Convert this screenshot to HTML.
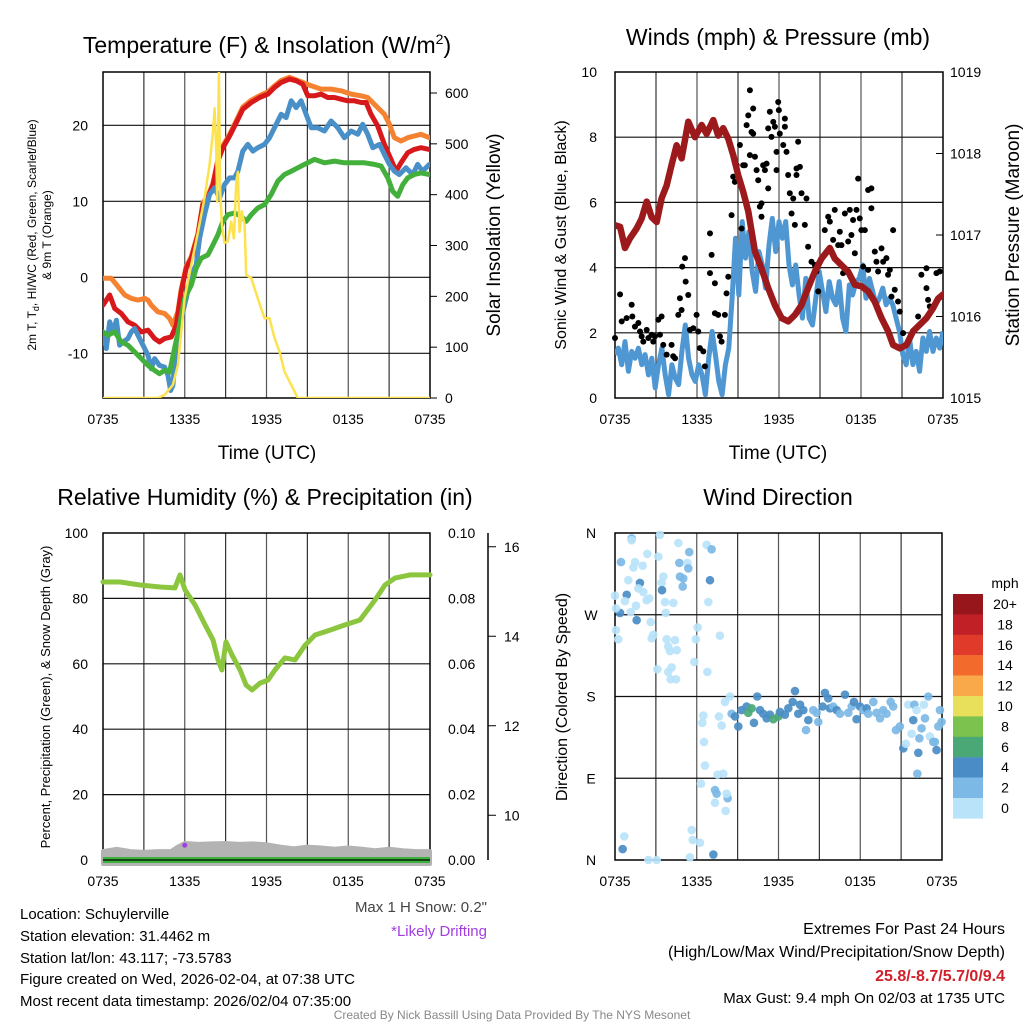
<!DOCTYPE html>
<html><head><meta charset="utf-8"><title>NYS Mesonet Meteogram - Schuylerville</title>
<style>
html,body{margin:0;padding:0;background:#fff;}
svg{display:block;font-family:"Liberation Sans",Arial,sans-serif;}
</style></head>
<body>
<svg id="chart" width="1024" height="1024" viewBox="0 0 1024 1024" xmlns="http://www.w3.org/2000/svg">
<rect x="0" y="0" width="1024" height="1024" fill="#fff"/>
<text x="267" y="53" font-size="23" text-anchor="middle">Temperature (F) &amp; Insolation (W/m<tspan font-size="14" dy="-9">2</tspan><tspan dy="9">)</tspan></text>
<text x="778" y="45" font-size="23" text-anchor="middle">Winds (mph) &amp; Pressure (mb)</text>
<text x="265" y="505" font-size="23" text-anchor="middle">Relative Humidity (%) &amp; Precipitation (in)</text>
<text x="778" y="505" font-size="23" text-anchor="middle">Wind Direction</text>
<text x="267" y="459" font-size="19" text-anchor="middle">Time (UTC)</text>
<text x="778" y="459" font-size="19" text-anchor="middle">Time (UTC)</text>
<text transform="translate(36,235) rotate(-90)" font-size="12" text-anchor="middle">2m T, T<tspan font-size="9" dy="3">d</tspan><tspan dy="-3">, HI/WC (Red, Green, Scarlet/Blue)</tspan></text>
<text transform="translate(51,235) rotate(-90)" font-size="12" text-anchor="middle">&amp; 9m T (Orange)</text>
<text transform="translate(500,235) rotate(-90)" font-size="19" text-anchor="middle">Solar Insolation (Yellow)</text>
<text transform="translate(566,235) rotate(-90)" font-size="16" text-anchor="middle">Sonic Wind &amp; Gust (Blue, Black)</text>
<text transform="translate(1019,235) rotate(-90)" font-size="19" text-anchor="middle">Station Pressure (Maroon)</text>
<text transform="translate(50,697) rotate(-90)" font-size="13" text-anchor="middle">Percent, Precipitation (Green), &amp; Snow Depth (Gray)</text>
<text transform="translate(567,697) rotate(-90)" font-size="16" text-anchor="middle">Direction (Colored By Speed)</text>
<g font-size="15">
<text x="20" y="919">Location: Schuylerville</text>
<text x="20" y="941">Station elevation: 31.4462 m</text>
<text x="20" y="963">Station lat/lon: 43.117; -73.5783</text>
<text x="20" y="984">Figure created on Wed, 2026-02-04, at 07:38 UTC</text>
<text x="20" y="1006">Most recent data timestamp: 2026/02/04 07:35:00</text>
</g>
<text x="487" y="912" font-size="15" fill="#444" text-anchor="end">Max 1 H Snow: 0.2"</text>
<text x="487" y="936" font-size="15" fill="#a23ee0" text-anchor="end">*Likely Drifting</text>
<g font-size="16" text-anchor="end">
<text x="1005" y="934">Extremes For Past 24 Hours</text>
<text x="1005" y="957">(High/Low/Max Wind/Precipitation/Snow Depth)</text>
<text x="1005" y="981" fill="#d0202a" font-weight="bold">25.8/-8.7/5.7/0/9.4</text>
<text x="1005" y="1003" font-size="15">Max Gust: 9.4 mph On 02/03 at 1735 UTC</text>
</g>
<text x="512" y="1019" font-size="12" fill="#888" text-anchor="middle">Created By Nick Bassill Using Data Provided By The NYS Mesonet</text>
<g id="layer"></g>
</svg>
<script>
var xTickLabels = ["0735","1335","1935","0135","0735"];
var tempYTicks = [-10,0,10,20];
var solYTicks = [0,100,200,300,400,500,600];
var windYTicks = [0,2,4,6,8,10];
var presYTicks = [1015,1016,1017,1018,1019];
var rhYTicks = [0,20,40,60,80,100];
var precipYTicks = ["0.00","0.02","0.04","0.06","0.08","0.10"];
var snowYTicks = [10,12,14,16];
var dirLabels = ["N","E","S","W","N"];
var speedBins = ["0","2","4","6","8","10","12","14","16","18","20+"];
var speedColors = ["#b9e3f8","#7cb9e6","#4a8dc6","#4aa877","#7cc24e","#e8e05a","#f9a94a","#f26b2c","#e03a2a","#c02026","#96161b"];

var redT = [0,0.49,0.86,1.34,1.83,2.32,2.81,3.30,3.79,4.15,4.52,5.01,5.38,5.74,6.11,6.48,6.97,7.33,7.70,8.07,8.43,8.80,9.29,9.78,10.26,10.88,11.49,12.10,12.59,13.08,13.69,14.18,14.66,15.03,15.52,16.01,16.50,16.99,17.47,17.96,18.45,18.94,19.31,19.67,20.16,20.65,21.14,21.51,21.87,22.36,22.85,23.34,23.95];
var redV = [-3.66,-2.33,-4.10,-4.76,-5.86,-6.30,-7.18,-6.96,-8.06,-8.50,-8.06,-7.84,-6.30,-1.89,1.19,2.51,5.59,9.56,10.44,12.20,15.29,17.05,18.59,20.35,22.11,23.00,23.66,24.10,24.98,25.64,26.08,25.86,25.42,23.88,23.88,24.10,23.66,23.66,23.44,23.22,23.22,23.00,23.00,21.45,19.91,17.49,15.51,13.96,15.07,16.39,16.83,17.05,16.83];
var orangeT = [0,0.61,1.10,1.59,2.08,2.57,3.06,3.30,3.54,4.03,4.52,4.89,5.13,5.50,5.74,6.11,6.48,6.97,7.33,7.70,8.07,8.43,8.80,9.29,9.78,10.26,10.88,11.49,12.10,12.59,13.08,13.69,14.66,15.28,16.01,16.74,17.47,18.21,18.94,19.43,20.16,20.65,21.02,21.39,21.87,22.36,22.85,23.34,23.95];
var orangeV = [-0.13,-0.13,-1.23,-2.33,-2.78,-3.00,-2.78,-3.00,-3.66,-4.54,-4.76,-5.42,-6.30,-4.54,-1.6,1.4,2.7,5.8,9.8,10.7,12.4,15.5,17.3,18.8,20.6,22.4,23.3,23.9,24.4,25.2,25.9,26.3,25.64,25.20,24.76,24.76,24.54,24.10,23.88,23.66,22.33,21.45,20.13,18.37,17.93,18.37,18.59,18.81,18.37];
var blueT = [0,0.24,0.49,0.73,0.98,1.22,1.47,1.83,2.08,2.32,2.81,3.30,3.54,3.79,4.15,4.52,4.77,4.96,5.13,5.38,5.74,6.11,6.48,6.84,7.09,7.45,7.82,8.19,8.55,8.92,9.29,9.65,9.90,10.26,10.63,11.00,11.36,11.85,12.22,12.71,13.08,13.44,13.81,14.18,14.54,14.91,15.28,15.76,16.25,16.74,17.23,17.72,18.21,18.70,19.06,19.43,19.80,20.29,20.65,21.02,21.39,21.75,22.24,22.73,23.10,23.46,23.95];
var blueV = [-7.18,-9.38,-5.86,-7.18,-5.64,-8.94,-8.50,-8.06,-7.18,-6.74,-8.50,-10.26,-12.03,-10.70,-11.59,-11.81,-12.91,-14.89,-14.23,-8.50,-5.42,-2.78,0.31,1.63,5.15,8.24,10.88,11.76,10.44,12.20,13.08,13.08,13.96,16.61,17.49,16.61,17.05,17.49,18.37,20.13,21.45,21.01,23.22,22.33,23.22,21.45,19.69,19.69,19.25,20.57,19.69,18.37,19.25,18.81,20.13,18.81,17.05,17.49,16.17,14.85,13.96,13.52,14.41,13.52,14.85,13.96,14.85];
var greenT = [0,0.37,0.86,1.34,1.83,2.32,2.81,3.30,3.79,4.15,4.52,4.89,5.25,5.62,5.99,6.48,6.84,7.21,7.70,8.07,8.43,8.80,9.17,9.65,10.14,10.51,10.88,11.36,11.85,12.34,12.83,13.32,13.81,14.30,14.79,15.52,16.25,16.99,17.72,18.45,19.19,19.92,20.41,20.90,21.26,21.63,22.00,22.36,22.85,23.34,23.95];
var greenV = [-7.18,-7.62,-7.18,-8.50,-8.94,-9.82,-10.70,-11.59,-12.25,-12.69,-12.25,-12.47,-9.38,-6.30,-2.78,-1.01,1.19,2.51,2.95,4.27,5.59,7.36,8.24,8.46,8.02,7.36,8.24,9.12,9.56,10.88,12.64,13.52,13.96,14.41,14.85,15.51,15.07,15.29,15.07,15.07,15.07,14.85,14.63,13.08,11.32,10.66,12.20,13.08,13.52,13.74,13.52];
var solT = [0,4.03,4.52,5.13,5.50,5.99,6.48,6.97,7.45,7.82,8.07,8.19,8.31,8.38,8.51,8.60,8.73,8.92,9.17,9.41,9.61,9.78,9.90,10.02,10.19,10.39,10.51,10.88,11.36,11.85,12.22,12.59,12.95,13.32,13.81,14.30,24];
var solV = [0,0,6,26,65,196,262,327,393,458,524,570,491,386,642,406,341,305,308,347,314,426,445,327,367,341,242,236,196,157,157,118,92,52,26,0,0];

var presT = [0,0.37,0.73,1.10,1.58,1.95,2.32,2.68,3.05,3.41,3.78,4.14,4.51,4.87,5.36,5.85,6.34,6.70,7.19,7.55,7.92,8.29,8.65,9.02,9.38,9.75,10.24,10.72,11.21,11.70,12.19,12.67,13.16,13.65,14.13,14.62,15.11,15.72,16.08,16.57,17.06,17.55,18.03,18.52,19.01,19.50,19.98,20.35,20.84,21.32,21.81,22.30,22.79,23.27,23.64,24.0];
var presV = [1017.12,1017.10,1016.84,1016.96,1017.08,1017.20,1017.41,1017.22,1017.16,1017.45,1017.61,1017.86,1018.10,1017.94,1018.39,1018.20,1018.35,1018.24,1018.41,1018.22,1018.31,1018.18,1017.98,1017.73,1017.53,1017.29,1016.80,1016.59,1016.35,1016.14,1015.98,1015.94,1016.02,1016.14,1016.35,1016.55,1016.71,1016.84,1016.71,1016.63,1016.55,1016.39,1016.37,1016.31,1016.18,1015.98,1015.82,1015.65,1015.61,1015.65,1015.82,1015.90,1015.98,1016.10,1016.22,1016.27];
var windV = [1.33,1.53,1.02,1.73,0.82,1.43,1.22,1.53,1.02,1.33,0.71,1.22,0.31,1.02,1.53,0.71,0.10,1.02,0.61,0.41,1.43,2.24,1.22,0.71,0.51,1.02,0.71,0.10,1.22,2.04,1.33,0.51,0.10,1.02,1.53,3.06,4.90,3.16,5.41,4.29,5.10,3.88,3.27,4.49,4.08,3.37,4.69,5.51,4.49,5.41,4.90,5.41,4.08,3.47,4.08,3.16,2.45,3.67,2.45,2.24,3.06,3.88,3.27,2.65,3.57,3.06,2.86,3.57,2.45,2.04,3.47,3.16,3.57,3.67,4.08,3.06,3.67,3.27,2.86,3.06,3.37,2.86,3.06,2.86,2.45,2.04,1.33,1.02,1.84,1.02,1.43,0.82,1.84,1.43,2.04,1.43,1.84,1.53,2.04];
var gustT = [0,0.37,0.49,0.85,1.22,1.27,1.46,1.71,1.83,1.95,2.07,2.32,2.44,2.68,2.80,2.92,3.17,3.29,3.41,3.53,3.78,4.14,4.26,4.39,4.63,4.75,4.87,4.92,5.12,5.17,5.36,5.48,5.73,5.97,6.09,6.21,6.46,6.58,6.95,7.07,6.95,7.31,7.31,7.55,7.68,7.80,8.04,8.16,8.29,8.53,8.65,8.77,8.90,9.14,9.26,9.38,9.50,9.63,9.75,9.87,9.99,10.11,10.11,9.87,10.24,10.36,10.48,10.60,10.72,10.72,10.84,10.97,11.09,11.21,11.21,11.33,11.45,11.58,11.70,11.82,11.82,11.94,11.99,12.06,12.43,12.43,12.31,12.55,12.67,12.79,12.92,13.04,13.16,13.28,13.28,13.40,13.53,13.65,13.89,14.01,14.13,14.38,14.62,14.74,14.87,15.35,15.60,15.72,15.96,16.08,16.33,16.45,16.57,16.69,16.82,17.06,17.18,17.30,17.42,17.55,17.67,17.91,18.03,18.16,18.28,18.52,17.79,18.52,18.76,18.76,19.01,19.13,19.25,19.50,19.62,19.86,19.98,20.11,20.35,20.47,20.23,20.71,20.84,21.08,21.57,22.18,22.42,22.79,22.79,22.91,23.03,23.52,23.76];
var gustV = [1.84,3.18,2.35,2.45,2.86,2.50,2.19,2.30,2.04,1.89,1.73,2.09,1.84,1.94,1.73,1.89,2.40,1.94,2.50,1.63,1.33,1.63,1.28,1.22,2.55,3.06,2.70,4.03,4.29,3.57,3.16,2.09,2.14,2.55,2.04,1.53,1.43,0.97,5.05,4.39,3.83,3.52,2.60,2.55,1.89,1.73,2.55,3.21,3.72,5.61,6.79,6.63,7.14,7.76,5.20,7.14,7.14,8.37,8.67,9.44,8.16,8.88,8.11,7.45,7.40,6.99,6.68,5.87,5.97,5.56,7.14,6.99,7.19,6.43,8.27,8.78,8.01,8.47,8.32,7.55,6.99,9.08,8.83,8.11,8.57,8.32,7.76,7.55,6.84,6.28,5.66,6.12,5.31,7.04,6.84,7.86,7.09,6.28,5.31,6.12,4.64,4.18,4.08,3.88,3.27,5.15,5.56,5.41,4.85,5.77,4.69,5.10,4.69,3.83,5.66,4.80,5.77,5.00,5.46,4.44,5.77,5.51,5.15,4.03,5.15,3.93,6.73,6.38,6.43,5.82,4.49,4.18,3.88,4.59,4.18,4.29,3.78,3.93,5.15,3.32,3.11,2.96,2.65,1.99,1.84,2.50,3.78,3.98,3.37,3.01,2.81,3.83,3.88];

var rhT = [0,1.25,2.72,4.18,5.28,5.65,6.02,6.75,7.49,8.07,8.44,8.73,9.03,9.47,10.06,10.50,10.94,11.52,12.11,12.62,13.36,14.09,14.83,15.56,16.66,17.76,18.86,19.96,20.70,21.43,22.53,24];
var rhV = [85.0,85.0,84.1,83.5,83.2,87.2,82.6,78.0,71.9,67.3,61.2,58.1,66.7,62.7,58.1,53.5,52.0,54.1,55.0,58.1,61.8,61.2,65.7,68.8,70.3,71.9,73.4,79.5,84.1,86.2,87.2,87.2];
var snowT = [0,1,2,3,4,5,5.5,6,7,8,9,10,11,12,13,14,15,16,17,18,19,20,21,22,23,24];
var snowD = [9.2,9.25,9.2,9.18,9.2,9.2,9.3,9.38,9.36,9.37,9.38,9.36,9.37,9.35,9.3,9.26,9.3,9.28,9.25,9.28,9.25,9.22,9.25,9.22,9.2,9.2];
var precipT = [0,24];
var precipV = [0,0];
var driftT = [6.0];
var driftD = [9.33];

var dirT = [1.22,1.22,3.30,4.65,6.73,7.09,5.45,2.37,0.44,1.47,1.35,2.03,3.18,4.72,5.31,5.38,4.77,5.01,4.97,3.55,3.42,3.45,6.97,0.98,1.83,1.71,2.08,0.86,0.0,0.73,2.52,2.32,3.67,4.28,6.85,1.54,1.15,0.37,0.07,3.72,1.59,2.62,0.07,0.24,2.81,2.69,3.79,4.40,3.91,4.04,4.53,6.07,5.94,7.70,3.11,3.91,4.16,4.08,4.48,5.82,6.78,
 0.68,0.56,2.45,3.06,5.50,7.22,5.63,5.70,6.24,6.31,6.60,6.53,6.41,6.48,7.34,7.46,7.34,8.27,8.19,8.12,7.53,7.95,7.63,7.83,8.07,8.44,
 8.56,8.81,9.05,9.29,9.66,9.78,10.03,10.20,10.44,10.64,10.88,11.13,11.37,11.62,11.99,12.11,12.47,12.72,13.04,13.21,13.45,13.58,13.82,14.02,14.19,14.55,14.80,14.92,15.24,15.41,15.65,15.78,16.02,16.27,16.51,16.88,17.12,17.37,17.54,17.73,17.98,18.22,18.47,18.59,18.96,19.20,19.45,19.69,19.93,20.23,20.42,20.62,20.91,21.16,21.35,21.52,21.77,21.89,21.97,22.14,22.26,22.34,22.50,22.67,22.75,22.99,23.11,23.36,23.48,23.60,23.73,23.85,23.97,22.19];
var dirDeg = [354,352,358,349,347,342,339,337,328,328,322,324,334,327,327,321,312,310,301,312,305,297,308,308,305,299,295,292,291,285,288,286,284,283,284,280,273,272,277,272,264,262,253,243,248,244,243,242,235,230,231,256,243,247,210,207,212,199,199,218,207,
 26,12,0,0,3,6,33,22,19,84,104,130,151,159,77,73,63,68,73,54,94,95,158,148,174,180,
 161,158,147,165,169,162,167,151,180,165,161,156,160,155,158,163,160,167,174,186,161,171,165,143,154,165,162,152,169,184,178,167,169,165,161,182,162,169,174,155,169,165,167,161,174,162,156,165,161,174,169,143,147,123,128,171,139,154,171,165,118,134,145,171,156,180,136,130,130,121,147,165,152,95];
var dirSpd = [3,1,1,1,1,3,3,1,3,1,1,1,1,3,1,3,3,3,3,1,1,4.5,4.5,1,4.5,1,1,4.5,1,1,1,1,1,1,1,1,1,4.5,1,1,4.5,1,1,1,1,1,1,1,1,1,1,1,1,1,1,1,1,1,1,1,1,
 1,4.5,1,1,1,4.5,1,1,1,1,1,1,1,1,3,3,1,3,1,1,1,1,1,1,1,1,
 3,5,4.5,5,5,7,7,5,5,5,5,5,5,7,7,5,5,4.5,5,4.5,5,4.5,4.5,3,5,3,3,3,4.5,4.5,5,5,3,5,3,4.5,3,3,4.5,5,4.5,3,5,3,3,3,3,3,3,3,3,3,3,4.5,1,1,1,4.5,3,1,4.5,3,3,1,3,3,1,3,3,4.5,3,3,3,3,1];

var NS = "http://www.w3.org/2000/svg";
var layer = document.getElementById("layer");
function mk(tag, attrs, parent) {
  var e = document.createElementNS(NS, tag);
  for (var k in attrs) e.setAttribute(k, attrs[k]);
  (parent || layer).appendChild(e);
  return e;
}
function tx(s, x, y, size, anchor, parent) {
  var e = mk("text", {x: x, y: y, "font-size": size, "text-anchor": anchor || "middle"}, parent);
  e.textContent = s;
  return e;
}
function lin(d0, d1, p0, p1) { return function (v) { return p0 + (v - d0) * (p1 - p0) / (d1 - d0); }; }
function pathFrom(ts, vs, fx, fy) {
  var d = "";
  for (var i = 0; i < ts.length; i++) d += (i ? "L" : "M") + fx(ts[i]).toFixed(1) + "," + fy(vs[i]).toFixed(1);
  return d;
}
function speedColor(s) { var i = Math.min(10, Math.floor(s / 2)); return speedColors[i]; }

function frame(px0, py0, px1, py1, nameBase) {
  var g = mk("g", {});
  
  
  for (var i = 1; i < 8; i++) {
    var x = px0 + i * (px1 - px0) / 8;
    var l = mk("line", {x1: x, y1: py0, x2: x, y2: py1, stroke: (i % 2 ? "#333" : "#555"), "stroke-width": 1.2}, g);
    
    
  }
  var r = mk("rect", {x: px0, y: py0, width: px1 - px0, height: py1 - py0, fill: "none", stroke: "#000", "stroke-width": 1.5});
  
  
  for (var j = 0; j < xTickLabels.length; j++) {
    var t = tx(xTickLabels[j], px0 + j * (px1 - px0) / 4, py1 + 26, 14);
    
    
  }
  return g;
}
function hgrid(y, px0, px1, g) {
  var l = mk("line", {x1: px0, y1: y, x2: px1, y2: y, stroke: "#111", "stroke-width": 1.2}, g);
  
  
}

(function () {
  var X = lin(0, 24, 103, 430), Y = lin(0, 20, 277.3, 125.3), YS = lin(0, 600, 398, 93);
  var g = frame(103, 72, 430, 398, "temperature");
  tempYTicks.forEach(function (v) {
    hgrid(Y(v), 103, 430, g);
    var t = tx(String(v), 88, Y(v) + 5, 14, "end");
    
    
  });
  solYTicks.forEach(function (v) {
    var tk = mk("line", {x1: 430, y1: YS(v), x2: 437, y2: YS(v), stroke: "#000"});
    
    
    var t = tx(String(v), 445, YS(v) + 5, 14, "start");
    
    
  });
  var clip = mk("clipPath", {id: "c1"});
  mk("rect", {x: 103, y: 72, width: 327, height: 326}, clip);
  var series = [[orangeT, orangeV, "#f58231", "nine-meter-temp-line"], [redT, redV, "#d7191c", "two-meter-temp-line"], [blueT, blueV, "#4a90c8", "heat-index-wind-chill-line"], [greenT, greenV, "#44b03c", "dewpoint-line"]];
  series.forEach(function (s) {
    var p = mk("path", {d: pathFrom(s[0], s[1], X, Y), fill: "none", stroke: s[2], "stroke-width": 5, "stroke-linejoin": "round", "stroke-linecap": "round", "clip-path": "url(#c1)"});
    
    
  });
  var sp = mk("path", {d: pathFrom(solT, solV, X, YS), fill: "none", stroke: "#fde24f", "stroke-width": 2.5, "stroke-linejoin": "round", "clip-path": "url(#c1)"});
  
  
})();

(function () {
  var X = lin(0, 24, 615, 943), Y = lin(0, 10, 398, 72), YP = lin(1015, 1019, 398, 72);
  var g = frame(615, 72, 943, 398, "winds");
  windYTicks.forEach(function (v) {
    if (v > 0 && v < 10) hgrid(Y(v), 615, 943, g);
    var t = tx(String(v), 597, Y(v) + 5, 14, "end");
    
    
  });
  presYTicks.forEach(function (v) {
    var tk = mk("line", {x1: 943, y1: YP(v), x2: 936, y2: YP(v), stroke: "#000"});
    
    
    var t = tx(String(v), 950, YP(v) + 5, 14, "start");
    
    
  });
  var clip = mk("clipPath", {id: "c2"});
  mk("rect", {x: 615, y: 72, width: 328, height: 326}, clip);
  var windT = windV.map(function (v, i) { return i * 24 / (windV.length - 1); });
  var wp = mk("path", {d: pathFrom(windT, windV, X, Y), fill: "none", stroke: "#4f97d2", "stroke-width": 5, "stroke-linejoin": "round", "clip-path": "url(#c2)"});
  
  
  var gg = mk("g", {});
  
  
  for (var i = 0; i < gustT.length; i++) {
    var c = mk("circle", {cx: X(gustT[i]), cy: Y(gustV[i]), r: 3, fill: "#000"}, gg);
    
    
  }
  var pp = mk("path", {d: pathFrom(presT, presV, X, YP), fill: "none", stroke: "#9c1a1c", "stroke-width": 6.5, "stroke-linejoin": "round", "stroke-linecap": "round", "clip-path": "url(#c2)"});
  
  
})();

(function () {
  var X = lin(0, 24, 103, 430), Y = lin(0, 100, 860, 533), YS = lin(9, 11, 860, 770.5);
  var g = frame(103, 533, 430, 860, "humidity");
  rhYTicks.forEach(function (v, i) {
    if (v > 0 && v < 100) hgrid(Y(v), 103, 430, g);
    var t = tx(String(v), 88, Y(v) + 5, 14, "end");
    
    
    var t2 = tx(precipYTicks[i], 448, Y(v) + 5, 14, "start");
    
    
  });
  var ax = mk("line", {x1: 488, y1: 533, x2: 488, y2: 860, stroke: "#000", "stroke-width": 1.5});
  
  
  snowYTicks.forEach(function (v) {
    var tk = mk("line", {x1: 488, y1: YS(v), x2: 496, y2: YS(v), stroke: "#000"});
    
    
    var t = tx(String(v), 504, YS(v) + 5, 14, "start");
    
    
  });
  var area = pathFrom(snowT, snowD, X, YS) + "L" + X(24) + "," + (YS(9) + 4) + "L" + X(0) + "," + (YS(9) + 4) + "Z";
  var sa = mk("path", {d: area, fill: "#b3b3b3", stroke: "#b3b3b3", "stroke-width": 4, "stroke-linejoin": "round"});
  
  
  var pl = mk("path", {d: pathFrom(precipT, precipV, X, Y), fill: "none", stroke: "#3db33d", "stroke-width": 6});
  
  
  var base = mk("line", {x1: 103, y1: 860, x2: 430, y2: 860, stroke: "#000", "stroke-width": 1.2});
  
  
  for (var i = 0; i < driftT.length; i++) {
    var dm = mk("circle", {cx: X(driftT[i]), cy: YS(driftD[i]), r: 2.5, fill: "#a23ee0"});
    
    
  }
  var rp = mk("path", {d: pathFrom(rhT, rhV, X, Y), fill: "none", stroke: "#8cc63f", "stroke-width": 5, "stroke-linejoin": "round", "stroke-linecap": "round"});
  
  
})();

(function () {
  var X = lin(0, 24, 615, 942), Y = lin(0, 360, 860, 533);
  var g = frame(615, 533, 942, 860, "direction");
  dirLabels.forEach(function (s, i) {
    var y = Y(i * 90);
    if (i > 0 && i < 4) hgrid(y, 615, 942, g);
    var t = tx(s, 591, y + 5, 14, "middle");
    
    
  });
  var gg = mk("g", {});
  
  
  for (var i = 0; i < dirT.length; i++) {
    var c = mk("circle", {cx: X(dirT[i]), cy: Y(dirDeg[i]), r: 4.3, fill: speedColor(dirSpd[i]), "fill-opacity": 0.92}, gg);
    
    
  }
  var cb = mk("g", {});
  
  
  var lab = tx("mph", 1005, 588, 14, "middle", cb);
  
  
  for (var k = 0; k < speedBins.length; k++) {
    var idx = speedBins.length - 1 - k;
    var yy = 594 + k * 20.4;
    var r = mk("rect", {x: 953, y: yy, width: 30, height: 20.6, fill: speedColors[idx]}, cb);
    
    
    var t = tx(speedBins[idx], 1005, yy + 15, 14, "middle", cb);
    
    
  }
})();
</script>
</body></html>
